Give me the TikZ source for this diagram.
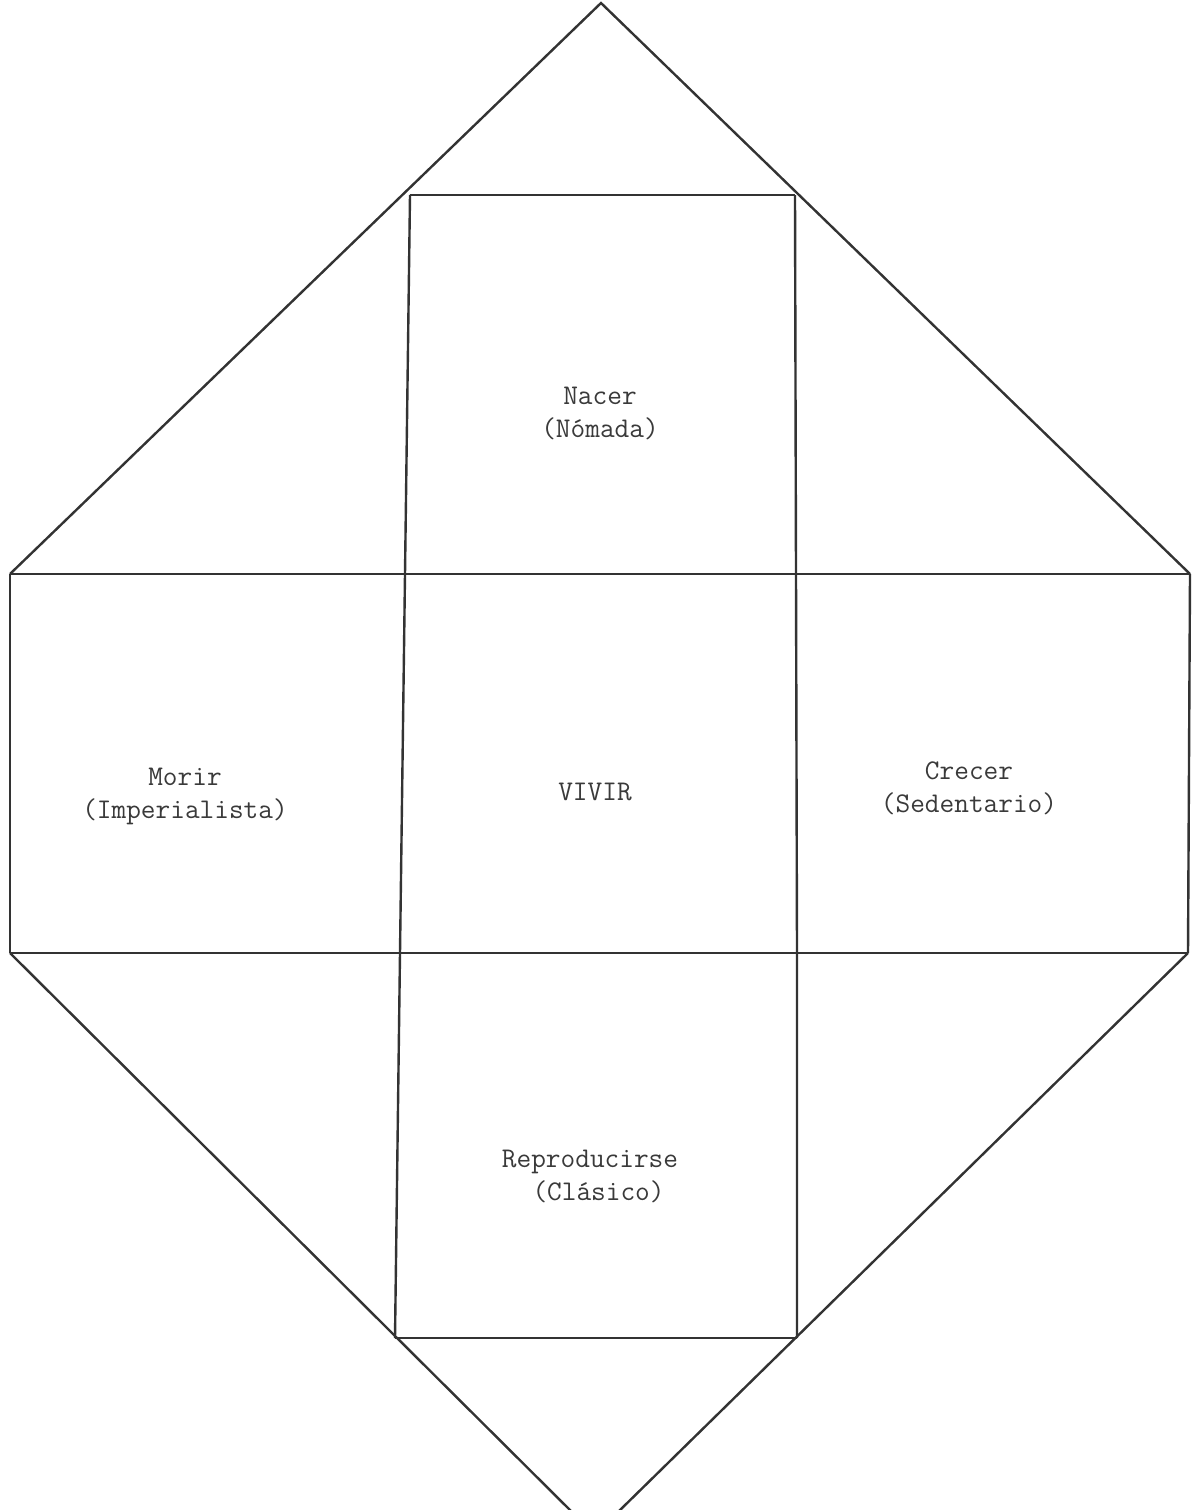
\documentclass[tikz,border=0pt]{standalone}
\usepackage{fontspec}
\definecolor{ink}{HTML}{333333}
\definecolor{txt}{HTML}{3A3A3A}
\begin{document}
\begin{tikzpicture}[x=1pt,y=-1pt,
  edge/.style={draw=ink,line width=2.4pt,line join=miter},
  lab/.style={font=\ttfamily\fontsize{28.5}{33}\selectfont,text=txt,align=center,inner sep=0pt}]
\useasboundingbox (0,0) rectangle (1196,1510);
\clip (0,0) rectangle (1196,1510);
% key points
\coordinate (apex) at (601,3);
\coordinate (L1) at (10,574);
\coordinate (R1) at (1190,574);
\coordinate (L2) at (10,953);
\coordinate (R2) at (1188,953);
\coordinate (TL) at (410,195);
\coordinate (TR) at (795,195);
\coordinate (ML1) at (405,574);
\coordinate (MR1) at (796,574);
\coordinate (ML2) at (400,953);
\coordinate (MR2) at (797,953);
\coordinate (BL) at (395,1338);
\coordinate (BR) at (797,1338);
\coordinate (bl) at (572,1512);
\coordinate (br) at (618,1512);
% outer diamond
\draw[edge] (L1) -- (apex) -- (R1);
\draw[edge] (L2) -- (bl);
\draw[edge] (R2) -- (br);
% horizontal bands
\draw[edge] (L1) -- (R1);
\draw[edge] (L2) -- (R2);
\draw[edge] (TL) -- (TR);
\draw[edge] (BL) -- (BR);
% verticals
\draw[edge] (L1) -- (L2);
\draw[edge] (R1) -- (R2);
\draw[edge] (TL) -- (ML1) -- (ML2) -- (BL);
\draw[edge] (TR) -- (MR1) -- (MR2) -- (BR);
% labels
\node[lab] (nacer) at (600,413) {Nacer\\(Nómada)};
\node[lab] (morir) at (185,796) {Morir\\(Imperialista)};
\node[lab] (vivir) at (595,792) {VIVIR};
\node[lab] (crecer) at (969,788) {Crecer\\(Sedentario)};
\node[lab] (repro) at (590,1176) {Reproducirse\\\hspace*{0.6em}(Clásico)};
\end{tikzpicture}
\end{document}
